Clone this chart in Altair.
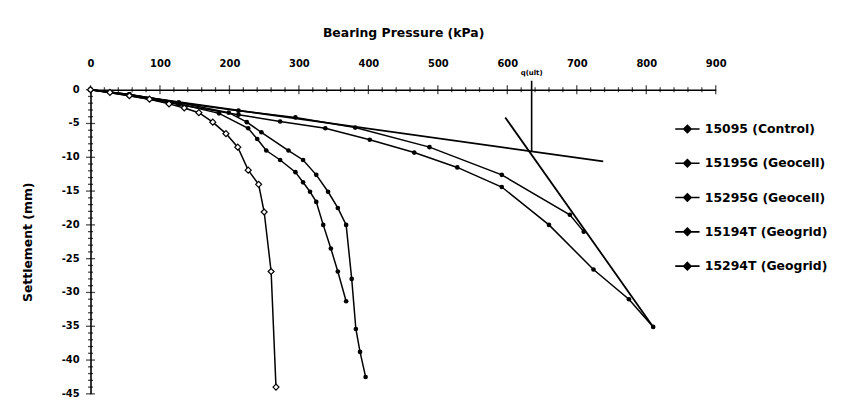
import altair as alt
import pandas as pd

series_names = ["15095 (Control)", "15195G (Geocell)", "15295G (Geocell)",
                "15194T (Geogrid)", "15294T (Geogrid)"]

control_p = [0, 28, 56, 85, 113, 135, 156, 176, 195, 212, 227, 242, 250, 260, 267]
control_s = [0, -0.4, -0.9, -1.4, -2.1, -2.7, -3.4, -4.8, -6.5, -8.5, -11.9, -14.0, -18.1, -26.9, -44.0]

g1_p = [0, 56, 127, 213, 295, 381, 488, 592, 690, 710]
g1_s = [0, -0.7, -1.9, -3.1, -4.1, -5.6, -8.5, -12.6, -18.5, -21.0]

g2_p = [0, 56, 127, 213, 273, 338, 402, 466, 528, 592, 660, 724, 775, 810]
g2_s = [0, -0.9, -2.2, -3.7, -4.7, -5.7, -7.4, -9.3, -11.5, -14.4, -20.0, -26.6, -31.0, -35.1]

t1_p = [0, 56, 127, 199, 225, 246, 285, 306, 325, 342, 356, 368, 376, 382, 388, 396]
t1_s = [0, -0.7, -1.9, -3.4, -4.8, -6.3, -9.0, -10.4, -12.6, -15.1, -17.5, -20.0, -28.0, -35.4, -38.8, -42.5]

t2_p = [0, 56, 127, 185, 227, 240, 253, 273, 295, 306, 316, 325, 335, 346, 356, 368]
t2_s = [0, -0.7, -2.1, -3.5, -5.7, -7.3, -9.0, -10.4, -12.2, -13.7, -15.1, -16.6, -20.0, -23.5, -26.9, -31.3]

# construction lines
tan1_p = [0, 738]
tan1_s = [0, -10.6]
tan2_p = [597, 810]
tan2_s = [-4.1, -35.1]
q_ult = 635
q_ult_s = -9.1

# axis tick values
x_major = list(range(0, 901, 100))
x_minor = [v for v in range(0, 901, 20) if v % 100 != 0]
y_major = list(range(-45, 1, 5))
y_minor = [v for v in range(-45, 1, 1) if v % 5 != 0]

rows = []
for name, ps, ss in zip(series_names,
                        [control_p, g1_p, g2_p, t1_p, t2_p],
                        [control_s, g1_s, g2_s, t1_s, t2_s]):
    for i, (p, s) in enumerate(zip(ps, ss)):
        rows.append({"series": name, "p": p, "s": s, "idx": i})
df = pd.DataFrame(rows)

ref_rows = []
for lid, ps, ss in [("t1", tan1_p, tan1_s), ("t2", tan2_p, tan2_s)]:
    for i, (p, s) in enumerate(zip(ps, ss)):
        ref_rows.append({"line": lid, "p": p, "s": s, "idx": i})
ref = pd.DataFrame(ref_rows)
qdf = pd.DataFrame({"p": [q_ult], "s": [q_ult_s], "s0": [0], "label": ["q(ult)"]})

xt = pd.DataFrame({"p": x_major + x_minor, "s": 0,
                   "major": [True] * len(x_major) + [False] * len(x_minor)})
yt = pd.DataFrame({"p": 0, "s": y_major + y_minor,
                   "major": [True] * len(y_major) + [False] * len(y_minor)})
ylab = pd.DataFrame({"p": 0, "s": y_major, "label": [str(v) for v in y_major]})

FONT = "DejaVu Sans"

x_enc = alt.X("p:Q", scale=alt.Scale(domain=[0, 900], nice=False),
              axis=alt.Axis(orient="top", title="Bearing Pressure (kPa)",
                            values=x_major, format="d", ticks=False,
                            labelPadding=21, titlePadding=20, grid=False,
                            domainColor="black", domainWidth=1.6,
                            labelFont=FONT, labelFontSize=10, labelFontWeight="bold", labelColor="black",
                            titleFont=FONT, titleFontSize=12.5, titleFontWeight="bold", titleColor="black",
                            labelFlush=False, labelOverlap=False))
y_enc = alt.Y("s:Q", scale=alt.Scale(domain=[-45, 0], nice=False),
              axis=alt.Axis(orient="left", title="Settlement (mm)",
                            values=y_major, labels=False, ticks=False,
                            titlePadding=56, grid=False,
                            domainColor="black", domainWidth=1.6,
                            titleFont=FONT, titleFontSize=12.5, titleFontWeight="bold", titleColor="black"))

legend = alt.Legend(title=None, orient="none", legendX=587, legendY=26,
                    symbolType="M-1,0L1,0M0,-0.3L0.3,0L0,0.3L-0.3,0Z",
                    symbolSize=600, symbolStrokeWidth=1.6, symbolFillColor="black",
                    symbolStrokeColor="black",
                    labelFont=FONT, labelFontSize=12.5, labelFontWeight="bold", labelColor="black",
                    labelOffset=4, rowPadding=13.5)

lines = alt.Chart(df).mark_line(strokeWidth=1.5).encode(
    x=x_enc, y=y_enc,
    color=alt.Color("series:N", scale=alt.Scale(domain=series_names, range=["black"] * 5),
                    legend=legend),
    order="idx:Q",
)

pts = alt.Chart(df).transform_filter(
    alt.datum.series != series_names[0]
).mark_point(shape="circle", filled=True, size=22, color="black", opacity=1).encode(
    x="p:Q", y="s:Q")

ctrl_pts = alt.Chart(df).transform_filter(
    alt.datum.series == series_names[0]
).mark_point(shape="diamond", filled=True, fill="white", stroke="black",
             strokeWidth=1.2, size=36, opacity=1).encode(x="p:Q", y="s:Q")

ref_lines = alt.Chart(ref).mark_line(color="black", strokeWidth=1.8).encode(
    x="p:Q", y="s:Q", detail="line:N", order="idx:Q")

q_rule = alt.Chart(qdf).mark_rule(color="black", strokeWidth=1.6).encode(
    x="p:Q", y="s:Q", y2=alt.value(-9))

q_text = alt.Chart(qdf).mark_text(font=FONT, fontSize=7, fontWeight="bold",
                                  color="black", dy=-17).encode(
    x="p:Q", y="s0:Q", text="label:N")

x_ticks = alt.Chart(xt).mark_tick(orient="vertical", color="black", thickness=1.3).encode(
    x="p:Q", y="s:Q",
    size=alt.condition(alt.datum.major, alt.value(9), alt.value(5)))

y_ticks = alt.Chart(yt).mark_tick(orient="horizontal", color="black", thickness=1.3).encode(
    x="p:Q", y="s:Q",
    size=alt.condition(alt.datum.major, alt.value(9), alt.value(5)))

y_labels = alt.Chart(ylab).mark_text(font=FONT, fontSize=10, fontWeight="bold", color="black",
                                     align="right", baseline="middle", dx=-11).encode(
    x="p:Q", y="s:Q", text="label:N")

chart = alt.layer(lines, ref_lines, q_rule, x_ticks, y_ticks, pts, ctrl_pts, q_text, y_labels).properties(
    width=629, height=306,
    autosize=alt.AutoSizeParams(type="none"),
    padding={"left": 83, "top": 81, "right": 120, "bottom": 6},
    background="white",
).configure_view(stroke=None)

chart.save("out.html", embed_options={"renderer": "svg", "actions": False})
